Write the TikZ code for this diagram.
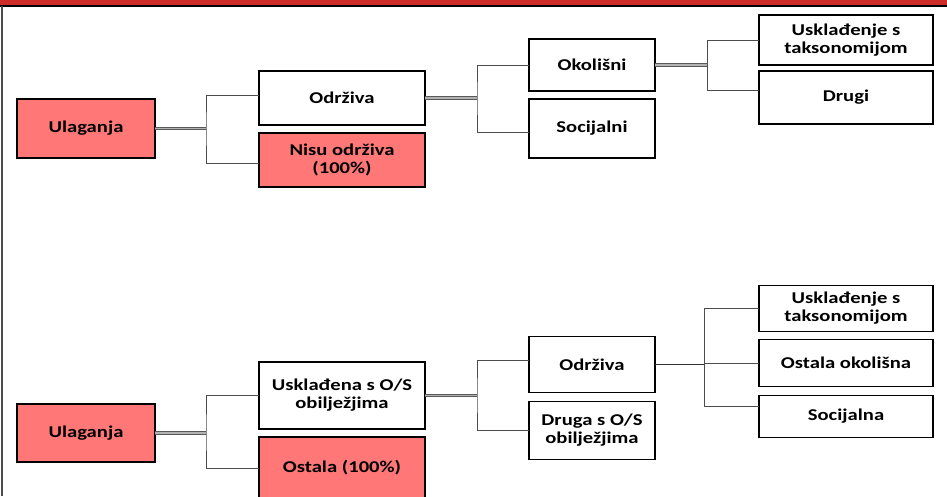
\documentclass[tikz,border=0pt]{standalone}
\usepackage{fontspec}
\newfontfamily\boxfont{Carlito}[FakeStretch=1.25]
\usetikzlibrary{positioning}
\definecolor{lachs}{RGB}{255,119,119}
\definecolor{balken}{RGB}{205,45,40}

\begin{document}
\begin{tikzpicture}[x=1pt, y=-1pt,
kutija/.style={
  rectangle,
  line width=1.6pt,
  draw=black,
  fill=white,
  outer sep=0pt,
  inner sep=2pt,
  align=center,
  font=\boxfont\bfseries\fontsize{16.5}{18}\selectfont
},
crvena/.style={
  kutija,
  fill=lachs
},
veza/.style={
  line width=0.8pt,
  draw=black!70
},
dvojna/.style={
  draw=black!65,
  line width=1.1pt,
  double=black!30,
  double distance=1.2pt
}]
\useasboundingbox (0,0) rectangle (947,496);
\clip (0,0) rectangle (947,496);

% rahmen
\fill[balken] (0,0) rectangle (947,4.5);
\draw[line width=2pt] (0,5.5) -- (947,5.5);
\draw[line width=1.5pt, black!70] (2,6) -- (2,496);

% oben
\node[crvena, minimum width=138pt, minimum height=59pt] (U) at (86,128.5) {Ulaganja};
\node[kutija, minimum width=166pt, minimum height=54pt] (O) [right=104pt of U, yshift=30.5pt] {Održiva};
\node[crvena, minimum width=166pt, minimum height=54pt] (N) [below=8pt of O] {Nisu održiva\\(100\%)};

\draw[dvojna] (U.east) -- ++(51,0) coordinate (b1);
\draw[veza] ([yshift=3pt]O.west) -| (b1) |- ([yshift=-3pt]N.west);

\node[kutija, minimum width=126pt, minimum height=52pt] (OK) [right=104pt of O, yshift=33pt] {Okolišni};
\node[kutija, minimum width=126pt, minimum height=59pt] (S) [below=8pt of OK] {Socijalni};

\draw[dvojna] (O.east) -- ++(52,0) coordinate (b2);
\draw[veza] (OK.west) -| (b2) |- ([yshift=-4pt]S.west);

\node[kutija, minimum width=174pt, minimum height=50pt] (UT) [right=104pt of OK, yshift=25pt] {Usklađenje s\\taksonomijom};
\node[kutija, minimum width=174pt, minimum height=53pt] (D) [below=6pt of UT] {Drugi};

\draw[dvojna] (OK.east) -- ++(52,0) coordinate (b3);
\draw[veza] (UT.west) -| (b3) |- ([yshift=7pt]D.west);

% unten
\node[crvena, minimum width=138pt, minimum height=58pt] (U2) at (86,433) {Ulaganja};
\node[kutija, minimum width=166pt, minimum height=67pt] (UO) [right=104pt of U2, yshift=37.5pt] {Usklađena s O/S\\obilježjima};
\node[crvena, minimum width=166pt, minimum height=62pt] (OS) [below=8pt of UO] {Ostala (100\%)};

\draw[dvojna] (U2.east) -- ++(51,0) coordinate (b4);
\draw[veza] (UO.west) -| (b4) |- (OS.west);

\node[kutija, minimum width=126pt, minimum height=56pt] (O2) [right=104pt of UO, yshift=31pt] {Održiva};
\node[kutija, minimum width=126pt, minimum height=58pt] (DR) [below=9pt of O2] {Druga s O/S\\obilježjima};

\draw[dvojna] (UO.east) -- ++(52,0) coordinate (b5);
\draw[veza] ([yshift=4pt]O2.west) -| (b5) |- (DR.west);

\node[kutija, minimum width=174pt, minimum height=46pt] (UT2) [right=104pt of O2, yshift=56pt] {Usklađenje s\\taksonomijom};
\node[kutija, minimum width=174pt, minimum height=47pt] (OO) [below=8pt of UT2] {Ostala okolišna};
\node[kutija, minimum width=174pt, minimum height=42pt] (SO) [below=9pt of OO] {Socijalna};

\draw[line width=1.8pt, black!80] (O2.east) -- ++(49,0) coordinate (b6);
\draw[veza] (UT2.west) -| (b6) |- ([yshift=10pt]SO.west);
\draw[veza] (b6) |- (OO.west);

\end{tikzpicture}
\end{document}
